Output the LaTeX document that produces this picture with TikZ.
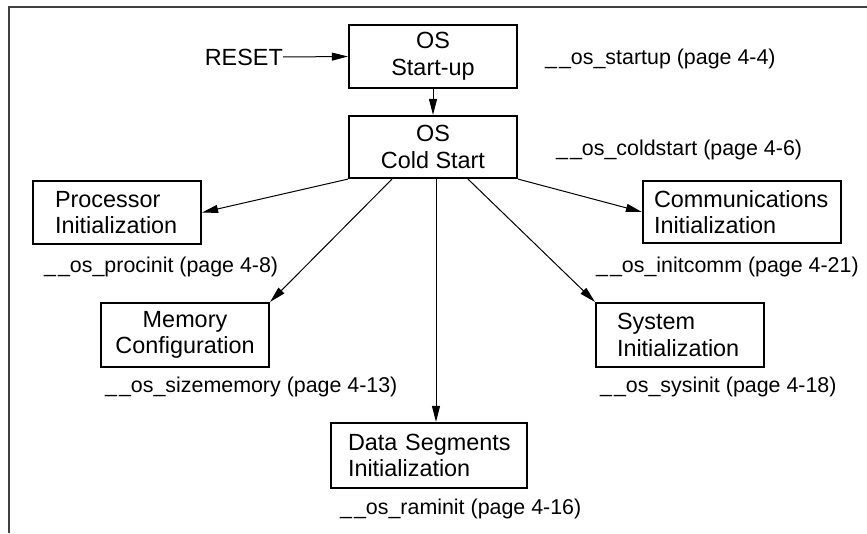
\documentclass[tikz,border=0pt]{standalone}
\usepackage{fontspec}
\setmainfont{Liberation Sans}
\usetikzlibrary{arrows.meta,calc}
\newcommand\diagboxfont{\fontsize{23.4}{26.5}\selectfont}
\newcommand\diaglabelfont{\fontsize{21.4}{24}\selectfont}
\begin{document}
\begin{tikzpicture}[x=1pt,y=-1pt,
  box/.style={draw,line width=2.2pt,inner ysep=0pt,font=\diagboxfont},
  cbox/.style={box,align=center,minimum width=168pt,inner xsep=0pt},
  lbox/.style={box,align=left},
  arr/.style={line width=1pt,-{Triangle[length=16pt,width=8pt]}},
  lbl/.style={anchor=base west,inner sep=0pt,font=\diaglabelfont},
  frame/.style={line width=1.6pt,black!75}]
\useasboundingbox (0,0) rectangle (867,533);

% page frame (top and left edges)
\draw[frame] (9,533) -- (9,7) -- (867,7);

% boxes
\node[cbox,minimum height=63pt] (start) at (433,56.5) {OS\\Start-up};
\node[cbox,minimum height=62pt] (cold) at (433,147) {OS\\Cold Start};
\node[lbox,text width=124pt,inner xsep=22pt,minimum height=63pt] (proc) at (117,212.5) {Processor\\Initialization};
\node[cbox,minimum height=64pt] (mem) at (185,335) {Memory\\Configuration};
\node[lbox,text width=162pt,inner xsep=17pt,minimum height=65pt] (data) at (429,455.5) {\mbox{Data Segments}\\Initialization};
\node[lbox,text width=176pt,inner xsep=11pt,minimum height=62pt] (comm) at (742,212) {Communications\\Initialization};
\node[lbox,text width=126pt,inner xsep=21pt,minimum height=64pt] (sys) at (680,335) {System\\Initialization};

% reset input
\node[anchor=east,inner sep=0pt,font=\diagboxfont] (reset) at (283,57) {RESET};

% routine names
\node[lbl] (lstart) at (545,64) {\_\kern2pt\_os\_startup (page 4-4)};
\node[lbl] (lcold) at (556,155) {\_\kern2pt\_os\_coldstart (page 4-6)};
\node[lbl] (lproc) at (44,272) {\_\kern2pt\_os\_procinit (page 4-8)};
\node[lbl] (lmem) at (105,392) {\_\kern2pt\_os\_sizememory (page 4-13)};
\node[lbl] (ldata) at (340,514) {\_\kern2pt\_os\_raminit (page 4-16)};
\node[lbl] (lcomm) at (596,272) {\_\kern2pt\_os\_initcomm (page 4-21)};
\node[lbl] (lsys) at (600,392) {\_\kern2pt\_os\_sysinit (page 4-18)};

% connectors
\draw[arr] (reset.east) -- (start.west);
\draw[arr] (start.south) -- (cold.north);
\draw[arr] (cold.south west) -- (proc.east);
\draw[arr] ([xshift=-41pt]cold.south) -- (mem.north east);
\draw[arr] ([xshift=3pt]cold.south) -- ([xshift=3pt]cold.south |- data.north);
\draw[arr] ([xshift=35pt]cold.south) -- (sys.north west);
\draw[arr] (cold.south east) -- (comm.west);
\end{tikzpicture}
\end{document}
